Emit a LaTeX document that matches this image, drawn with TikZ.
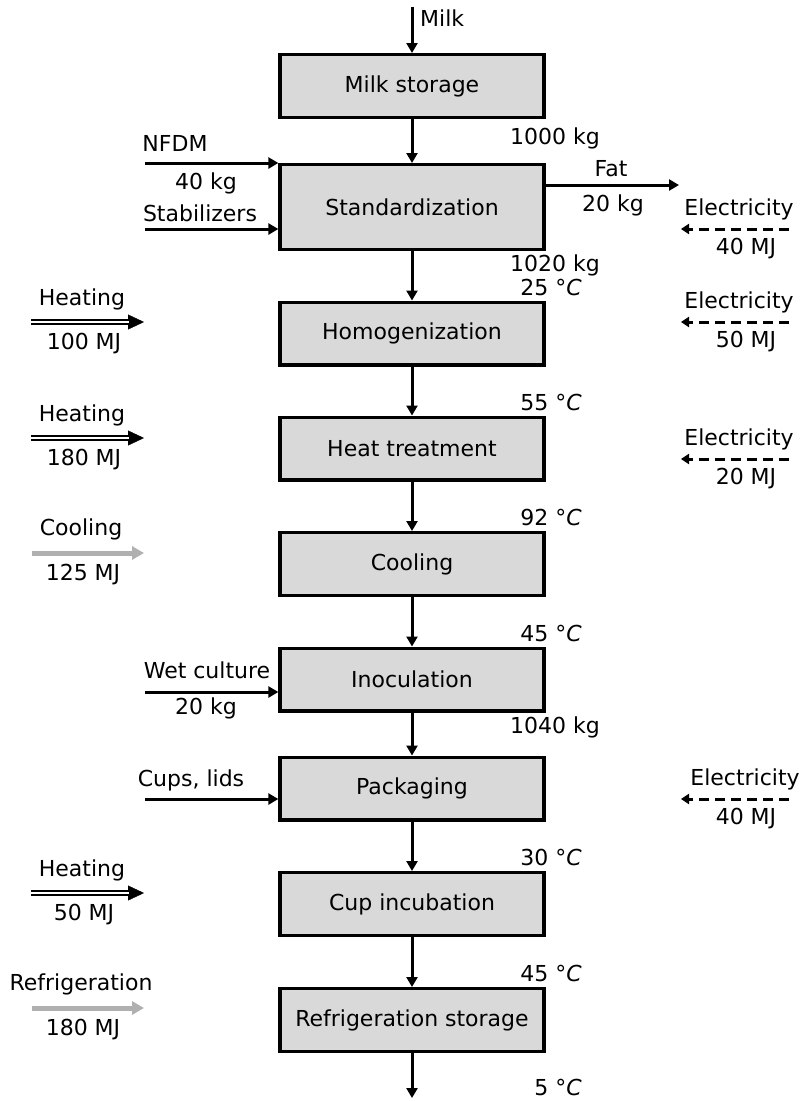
\documentclass[tikz,border=0pt]{standalone}
\usepackage{fontspec}
\setmainfont{DejaVu Sans}
\usetikzlibrary{arrows.meta}
\definecolor{boxGray}{gray}{0.85}
\definecolor{coolGray}{gray}{0.69}

\begin{document}
\begin{tikzpicture}[
        x=1pt,
        y=1pt,
        every node/.style={font=\fontsize{22}{26}\selectfont, inner sep=1pt},
        procbox/.style={draw, line width=3.3pt, fill=boxGray, minimum width=264pt, minimum height=62.7pt, inner sep=0pt},
        flow/.style={line width=3pt, -{Triangle[length=10pt, width=11pt]}},
        heatline/.style={double, double distance=1.8pt, line width=2.2pt, shorten >=15.5pt},
        heattip/.style={line width=0.4pt, -{Triangle[length=16pt, width=15pt]}},
        coolflow/.style={coolGray, line width=5pt, -{Triangle[length=12pt, width=13pt]}},
        elecflow/.style={line width=3pt, dash pattern=on 10pt off 6pt, -{Triangle[length=8pt, width=10pt]}}
    ]
        \useasboundingbox (0,0) rectangle (805,-1101);

        % process chain
        \node[procbox] (storage) at (412,-86) {Milk storage};
        \node[procbox, minimum height=84.7pt] (stand) at (412,-207) {Standardization};
        \node[procbox] (homog) at (412,-333.5) {Homogenization};
        \node[procbox] (heat) at (412,-448.5) {Heat treatment};
        \node[procbox] (cool) at (412,-564) {Cooling};
        \node[procbox] (inoc) at (412,-679.5) {Inoculation};
        \node[procbox] (pack) at (412,-788.5) {Packaging};
        \node[procbox] (incub) at (412,-904) {Cup incubation};
        \node[procbox] (refrig) at (412,-1020) {Refrigeration storage};

        \foreach \a/\b in {storage/stand, stand/homog, homog/heat, heat/cool, cool/inoc, inoc/pack, pack/incub, incub/refrig} {
            \draw[flow] (\a) -- (\b);
        }

        \coordinate (milkIn) at (412,-7);
        \draw[flow] (milkIn) -- (storage);
        \node[anchor=west] (milk) at (419,-18) {Milk};
        \coordinate (prodOut) at (412,-1098);
        \draw[flow] (refrig) -- (prodOut);

        % material streams
        \coordinate (nfdmIn) at (145,0);
        \draw[flow] (nfdmIn |- stand.north west) -- (stand.north west);
        \node (nfdm) at (175,-143) {NFDM};
        \node (nfdmKg) at (206,-183) {40 kg};

        \coordinate (stabIn) at (145,-229);
        \draw[flow] (stabIn) -- (stabIn -| stand.west);
        \node (stab) at (200,-213) {Stabilizers};

        \coordinate (fatOut) at (679,-185);
        \draw[flow] (fatOut -| stand.east) -- (fatOut);
        \node (fat) at (611,-169) {Fat};
        \node (fatKg) at (613,-205) {20 kg};

        \coordinate (wetIn) at (145,-692);
        \draw[flow] (wetIn) -- (wetIn -| inoc.west);
        \node (wet) at (207,-670) {Wet culture};
        \node (wetKg) at (206,-708) {20 kg};

        \coordinate (cupsIn) at (145,-799);
        \draw[flow] (cupsIn) -- (cupsIn -| pack.west);
        \node (cups) at (191,-780) {Cups, lids};

        \foreach \y/\m [count=\i] in {138/1000, 265/1020, 727/1040} {
            \node[anchor=east] (mass\i) at (601,-\y) {\m{} kg};
        }
        \foreach \y/\t [count=\i] in {287/25, 402/55, 517/92, 633/45, 857/30, 973/45, 1087/5} {
            \node[anchor=east] (temp\i) at (583,-\y) {\t{} °\textit{C}};
        }

        % energy streams
        \foreach \y/\v [count=\i] in {322/100, 438/180, 893/50} {
            \coordinate (heatS\i) at (31,-\y);
            \coordinate (heatE\i) at (144,-\y);
            \draw[heattip] (heatS\i) -- (heatE\i);
            \draw[heatline] (heatS\i) -- (heatE\i);
            \node (heatL\i) at (82,-\y+23) {Heating};
            \node (heatV\i) at (84,-\y-22) {\v{} MJ};
        }

        \foreach \y/\v/\txt [count=\i] in {553/125/Cooling, 1008/180/Refrigeration} {
            \coordinate (coolS\i) at (32,-\y);
            \coordinate (coolE\i) at (144,-\y);
            \draw[coolflow] (coolS\i) -- (coolE\i);
            \node (coolL\i) at (81,-\y+24) {\txt};
            \node (coolV\i) at (83,-\y-22) {\v{} MJ};
        }

        \foreach \y/\v/\x [count=\i] in {229/40/739, 322/50/739, 459/20/739, 799/40/745} {
            \coordinate (elecS\i) at (789,-\y);
            \coordinate (elecE\i) at (681,-\y);
            \draw[elecflow] (elecS\i) -- (elecE\i);
            \node (elecL\i) at (\x,-\y+20) {Electricity};
            \node (elecV\i) at (746,-\y-20) {\v{} MJ};
        }
    \end{tikzpicture}
\end{document}
